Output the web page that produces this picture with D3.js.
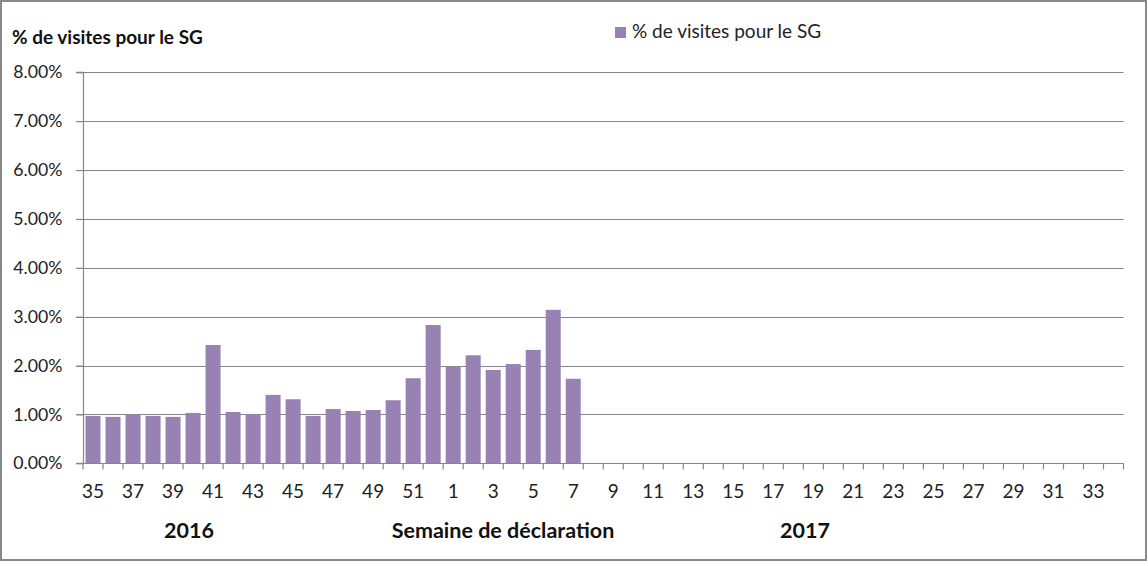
<!DOCTYPE html>
<html><head><meta charset="utf-8">
<script src="https://cdn.jsdelivr.net/npm/d3@7"></script>
<style>
body{margin:0;background:#fff;}
svg{display:block;font-family:Lato,"Open Sans",sans-serif;}
</style></head>
<body>
<svg id="c" width="1147" height="561"></svg>
<script>
const weeks = [35,36,37,38,39,40,41,42,43,44,45,46,47,48,49,50,51,52,
  1,2,3,4,5,6,7,8,9,10,11,12,13,14,15,16,17,18,19,20,21,22,23,24,25,26,27,28,29,30,31,32,33,34];
const years = [2016,2016,2016,2016,2016,2016,2016,2016,2016,2016,2016,2016,2016,2016,2016,2016,2016,2016,
  2017,2017,2017,2017,2017,2017,2017,2017,2017,2017,2017,2017,2017,2017,2017,2017,2017,2017,2017,2017,2017,2017,2017,2017,2017,2017,2017,2017,2017,2017,2017,2017,2017,2017];
const values = [0.97,0.95,1.00,0.97,0.95,1.03,2.42,1.05,1.01,1.40,1.31,0.97,1.11,1.07,1.09,1.29,1.74,2.83,
  1.97,2.21,1.91,2.03,2.32,3.14,1.73];
const yTicks = [0,1,2,3,4,5,6,7,8];
const seriesName = "% de visites pour le SG";
const yAxisTitle = "% de visites pour le SG";
const xAxisTitle = "Semaine de déclaration";
const yearLabels = ["2016","2017"];

const svg = d3.select("#c");
const W=1147,H=561;
const m={l:83,r:1123.5,t:72.3,b:463.3};
const grey="#868686", barColor="#9782b3";

svg.append("rect").attr("x",1).attr("y",1).attr("width",W-2).attr("height",H-2)
  .attr("fill","#fff").attr("stroke","#898989").attr("stroke-width",2);

const keys = weeks.map((w,i)=>years[i]+"-"+w);
const x = d3.scaleBand().domain(keys).range([m.l,m.r]).paddingInner(0.25).paddingOuter(0.125);
const y = d3.scaleLinear().domain([0,8]).range([m.b,m.t]);

// gridlines
svg.append("g").selectAll("line").data(yTicks.filter(d=>d>0)).join("line")
  .attr("x1",m.l-7).attr("x2",m.r).attr("y1",d=>Math.round(y(d))+0.5).attr("y2",d=>Math.round(y(d))+0.5)
  .attr("stroke",grey).attr("stroke-width",1.2);

// bars
svg.append("g").selectAll("rect").data(values).join("rect")
  .attr("x",(d,i)=>x(keys[i])).attr("width",x.bandwidth())
  .attr("y",d=>y(d)).attr("height",d=>y(0)-y(d)).attr("fill",barColor);

// y axis
const yAxis = d3.axisLeft(y).tickValues(yTicks).tickSize(7).tickFormat(d=>d.toFixed(2)+"%");
const gy = svg.append("g").attr("transform",`translate(${m.l+0.5},0)`).call(yAxis);
gy.select(".domain").attr("stroke",grey).attr("stroke-width",1.2).attr("d",`M-7,${y(8)}H0V${y(0)}H-7`);
gy.selectAll(".tick line").attr("stroke",grey).attr("stroke-width",1.2);
gy.selectAll(".tick text").attr("x",-21).attr("font-size",17.7).attr("fill","#222")
  .attr("font-family","Lato,'Open Sans',sans-serif");

// x axis
const step = x.step();
const gx = svg.append("g").attr("transform",`translate(0,${Math.round(y(0))+0.5})`);
gx.append("line").attr("x1",m.l-7).attr("x2",m.r).attr("stroke",grey).attr("stroke-width",1.2);
const bounds = keys.map(k=>x(k)-x.paddingInner()*step/2).concat([m.r]);
gx.selectAll("line.tk").data(bounds).join("line").attr("class","tk")
  .attr("x1",d=>d).attr("x2",d=>d).attr("y1",0).attr("y2",6).attr("stroke",grey).attr("stroke-width",1.2);
gx.selectAll("text").data(weeks.map((w,i)=>({w,i})).filter(d=>d.i%2===0)).join("text")
  .attr("x",d=>x(keys[d.i])+x.bandwidth()/2).attr("y",34)
  .attr("text-anchor","middle").attr("font-size",19).attr("fill","#222").text(d=>d.w);

// titles
svg.append("text").attr("x",12).attr("y",44).attr("font-size",19).attr("font-weight","bold")
  .attr("fill","#111").text(yAxisTitle);
svg.append("text").attr("x",503).attr("y",538).attr("text-anchor","middle").attr("font-size",21.5)
  .attr("font-weight","bold").attr("fill","#111").text(xAxisTitle);
svg.append("text").attr("x",189).attr("y",538).attr("text-anchor","middle").attr("font-size",21.5)
  .attr("font-weight","bold").attr("fill","#111").text(yearLabels[0]);
svg.append("text").attr("x",805).attr("y",538).attr("text-anchor","middle").attr("font-size",21.5)
  .attr("font-weight","bold").attr("fill","#111").text(yearLabels[1]);

// legend
const lg = svg.append("g").attr("transform","translate(615,27)");
lg.append("rect").attr("width",11).attr("height",11).attr("fill",barColor);
lg.append("text").attr("x",17).attr("y",10.5).attr("font-size",19).attr("fill","#222").text(seriesName);
</script>
</body></html>
